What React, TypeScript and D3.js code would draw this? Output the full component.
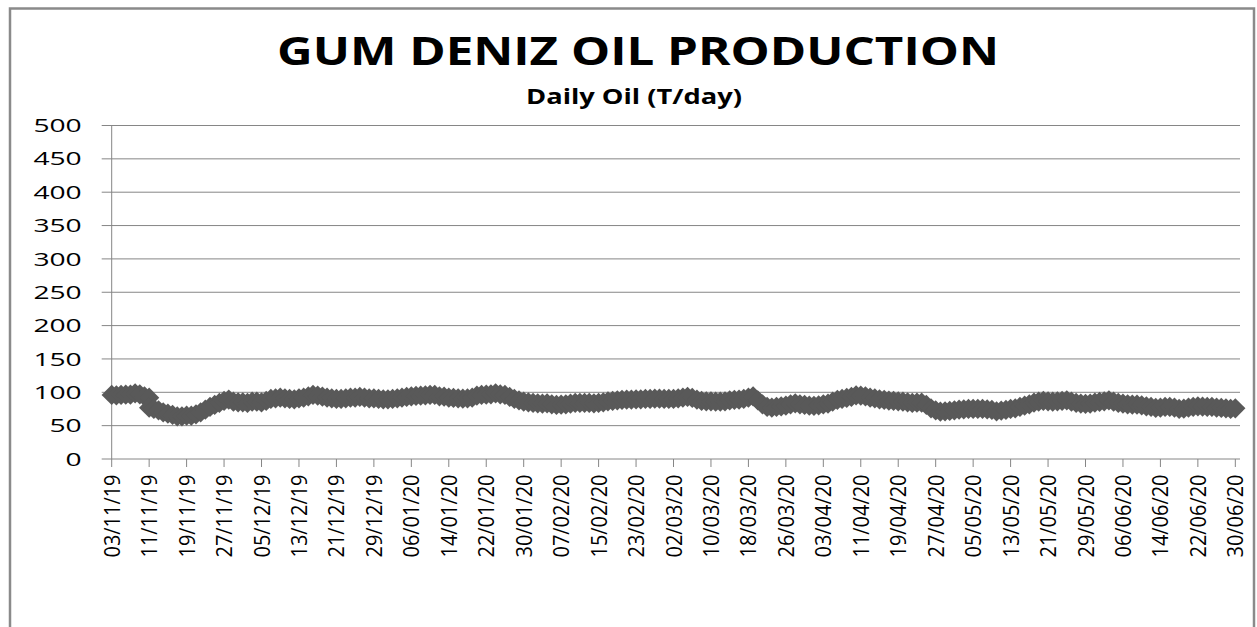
import React from "react";
import * as d3 from "d3";

// ---- data ----
const startDate = "2019-11-03";
const axisEndDate = "2020-07-01";
// first readings (03/11/19 .. 11/11/19)
const oilPart1 = [96, 95.5, 96, 96.5, 96.5, 98.5, 97, 94, 92];
// readings from 11/11/19 .. 30/06/20 (daily)
const oilPart2 = [
  77, 75, 73, 70, 68, 66, 64, 64, 65, 65,
  67, 70, 74, 78, 81, 84, 87, 89, 86, 85,
  85, 84, 86, 86, 85, 87, 90, 91, 92, 91,
  90, 89.5, 91, 92, 94, 96, 95, 93.5, 92, 91,
  90, 90, 91, 92, 92, 93, 92, 91, 91, 90,
  89.5, 89.5, 90, 91, 92, 93, 94, 94.5, 95, 95.5,
  96, 96, 94, 93.5, 92, 91.5, 91, 90.5, 91, 92,
  95, 96, 96.5, 97, 98.5, 97, 96, 93, 90, 88,
  86, 85, 84, 83.5, 83, 83.5, 82, 81, 81.5, 82,
  83, 84, 84, 84, 84, 83.5, 84, 85, 86.5, 87,
  88, 88.5, 89, 89, 89.5, 89.5, 90, 90, 90.5, 90.5,
  90, 90, 90, 91, 92, 93, 91.5, 89, 87, 86.5,
  86.5, 86, 86, 86.5, 88, 88.5, 89, 90, 92, 94,
  88, 82, 78, 77, 78, 79, 80, 82, 83.5, 82,
  81, 80, 79.7, 80.5, 82, 83, 86, 88.5, 90, 91.5,
  93, 95.5, 95, 94, 92, 91, 89.5, 88.5, 87.5, 87,
  86.5, 86, 85, 84, 84.5, 84.5, 81, 76, 73, 71,
  71.5, 72, 73, 74, 74.5, 75, 75, 75, 75, 74.5,
  73.5, 71.5, 72.5, 73.5, 75, 76, 78, 80, 82, 84.5,
  86, 87, 86.5, 86, 86.5, 87, 88, 86, 84, 83,
  82.5, 83, 84.5, 85.5, 86.5, 88, 86, 84, 83, 82,
  81.5, 81.5, 80.5, 79, 78, 76.5, 77, 78, 78, 77,
  75, 75.5, 77, 78, 79, 78.5, 78, 78, 77, 76.5,
  76, 75, 76,
];
const part2StartOffset = 8; // days after start
const tickLabels = [
  "03/11/19", "11/11/19", "19/11/19", "27/11/19", "05/12/19", "13/12/19",
  "21/12/19", "29/12/19", "06/01/20", "14/01/20", "22/01/20", "30/01/20",
  "07/02/20", "15/02/20", "23/02/20", "02/03/20", "10/03/20", "18/03/20",
  "26/03/20", "03/04/20", "11/04/20", "19/04/20", "27/04/20", "05/05/20",
  "13/05/20", "21/05/20", "29/05/20", "06/06/20", "14/06/20", "22/06/20",
  "30/06/20",
];
const tickStepDays = 8;
const yTicks = [0, 50, 100, 150, 200, 250, 300, 350, 400, 450, 500];
const title = "GUM DENIZ OIL PRODUCTION";
const subtitle = "Daily Oil (T/day)";

// ---- layout ----
const W = 1257;
const H = 627;
const plotLeft = 111.7;
const plotRight = 1240;
const plotTop = 125.5;
const plotBottom = 459;
const gridColor = "#868686";
const markerColor = "#595959";
const font = "'Open Sans', 'DejaVu Sans', sans-serif";

const parse = d3.utcParse("%Y-%m-%d");
const t0 = parse(startDate) as Date;
const t1 = parse(axisEndDate) as Date;

export default function App() {
  const x = d3.scaleUtc().domain([t0, t1]).range([plotLeft, plotRight]);
  const y = d3.scaleLinear().domain([0, 500]).range([plotBottom, plotTop]);

  const points: { date: Date; v: number }[] = [];
  oilPart1.forEach((v, i) => points.push({ date: d3.utcDay.offset(t0, i), v }));
  oilPart2.forEach((v, i) =>
    points.push({ date: d3.utcDay.offset(t0, part2StartOffset + i), v })
  );

  const marker = d3.symbol(d3.symbolSquare, 205)() as string;

  return (
    <svg
      width={W}
      height={H}
      style={{ position: "absolute", left: 0, top: 0, background: "#fff" }}
    >
      <rect x={0} y={0} width={W} height={H} fill="#fff" />
      {/* chart border */}
      <rect
        x={10}
        y={8.5}
        width={1244}
        height={640}
        fill="none"
        stroke="#8a8a8a"
        strokeWidth={2.5}
      />
      {/* titles */}
      <text
        x={277}
        y={65}
        fontFamily={font}
        fontWeight={700}
        fontSize={39.6}
        textLength={722}
        lengthAdjust="spacingAndGlyphs"
        fill="#000"
      >
        {title}
      </text>
      <text
        x={526}
        y={104}
        fontFamily={font}
        fontWeight={700}
        fontSize={21}
        textLength={216}
        lengthAdjust="spacingAndGlyphs"
        fill="#000"
      >
        {subtitle}
      </text>
      {/* gridlines + y labels */}
      {yTicks.map((t) => (
        <g key={t}>
          <line
            x1={plotLeft - 10}
            x2={plotRight}
            y1={y(t)}
            y2={y(t)}
            stroke={gridColor}
            strokeWidth={1}
          />
          <text
            x={81.7}
            y={y(t) + 6.6}
            textAnchor="end"
            fontFamily={font}
            fontSize={18.5}
            textLength={String(t).length * 16.1}
            lengthAdjust="spacingAndGlyphs"
            fill="#000"
          >
            {t}
          </text>
        </g>
      ))}
      {/* y axis */}
      <line
        x1={plotLeft}
        x2={plotLeft}
        y1={plotTop}
        y2={plotBottom}
        stroke={gridColor}
        strokeWidth={1}
      />
      {/* x ticks + labels */}
      {tickLabels.map((lab, i) => {
        const tx = x(d3.utcDay.offset(t0, i * tickStepDays));
        return (
          <g key={lab}>
            <line
              x1={tx}
              x2={tx}
              y1={plotBottom}
              y2={plotBottom + 8}
              stroke={gridColor}
              strokeWidth={1}
            />
            <text
              transform={`translate(${tx},474.5) rotate(-90)`}
              x={0}
              y={8}
              textAnchor="end"
              fontFamily={font}
              fontSize={22.5}
              textLength={83}
              lengthAdjust="spacingAndGlyphs"
              fill="#000"
            >
              {lab}
            </text>
          </g>
        );
      })}
      {/* markers */}
      {points.map((p, i) => (
        <path
          key={i}
          d={marker}
          transform={`translate(${x(p.date)},${y(p.v)}) rotate(45)`}
          fill={markerColor}
        />
      ))}
    </svg>
  );
}
